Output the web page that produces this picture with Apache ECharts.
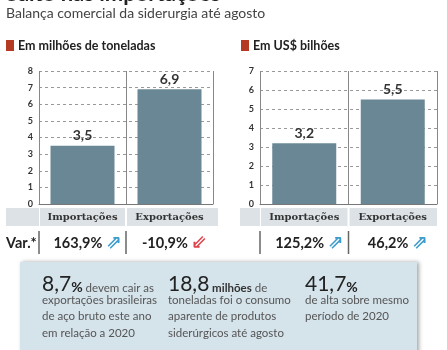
<!DOCTYPE html>
<html>
<head>
<meta charset="utf-8">
<script src="https://cdn.jsdelivr.net/npm/echarts@6/dist/echarts.min.js"></script>
<style>
  html, body { margin: 0; padding: 0; background: #fff; }
  #main { width: 447px; height: 350px; }
</style>
</head>
<body>
<div id="main"></div>
<script>
// dados
var categories = ['Importações', 'Exportações'];
var toneladas = [3.5, 6.9];
var dolares = [3.2, 5.5];
var varToneladas = [163.9, -10.9];
var varDolares = [125.2, 46.2];
var maxToneladas = 8;
var maxDolares = 7;

var FONT = 'Lato';
var barColor = '#6a8796';

function virgula(v) {
    return v.toFixed(1).replace('.', ',');
}

function eixoX(grid) {
    return {
        type: 'category',
        gridIndex: grid,
        data: categories,
        axisLine: { lineStyle: { color: '#777', width: 1 } },
        axisTick: { show: false },
        splitLine: { show: true, lineStyle: { color: '#888', width: 1 } },
        axisLabel: {
            interval: 0,
            hideOverlap: false,
            margin: 8,
            fontFamily: 'DejaVu Serif',
            fontWeight: 'bold',
            fontSize: 10,
            color: '#333'
        }
    };
}

function eixoY(grid, max) {
    return {
        type: 'value',
        gridIndex: grid,
        min: 0,
        max: max,
        interval: 1,
        axisLine: { show: false },
        axisTick: { show: false },
        splitLine: { lineStyle: { color: '#999', type: [3, 3], width: 1 } },
        axisLabel: {
            margin: 6,
            fontFamily: FONT,
            fontWeight: 'bold',
            fontSize: 9,
            color: '#333'
        }
    };
}

function serie(idx, valores) {
    return {
        type: 'bar',
        xAxisIndex: idx,
        yAxisIndex: idx,
        data: valores,
        barWidth: 64,
        itemStyle: { color: barColor },
        label: {
            show: true,
            position: 'top',
            distance: 3,
            fontFamily: FONT,
            fontWeight: 'bold',
            fontSize: 14,
            color: '#333',
            formatter: function (p) { return virgula(p.value); }
        }
    };
}

var myChart = echarts.init(document.getElementById('main'));
var option = {
    animation: false,
    grid: [
        { left: 39, top: 71, width: 174, height: 133 },
        { left: 260, top: 71, width: 177, height: 133 }
    ],
    xAxis: [eixoX(0), eixoX(1)],
    yAxis: [eixoY(0, maxToneladas), eixoY(1, maxDolares)],
    series: [serie(0, toneladas), serie(1, dolares)]
};
myChart.setOption(option);

// elementos de texto e faixas
var g = [];
// titulo cortado
g.push({ type: 'text', left: 6, top: -17, z: 10,
    style: { text: 'Salto nas importações', font: 'bold 22px ' + FONT, fill: '#222' } });
g.push({ type: 'text', left: 6, top: 6,
    style: { text: 'Balança comercial da siderurgia até agosto', font: '14px ' + FONT, fill: '#444' } });
// cabecalhos
[[6, 'Em milhões de toneladas'], [241, 'Em US$ bilhões']].forEach(function (h) {
    g.push({ type: 'rect', shape: { x: h[0], y: 40, width: 8, height: 11 }, style: { fill: '#b53a24' } });
    g.push({ type: 'text', x: h[0] + 12, y: 46,
        style: { text: h[1], font: 'bold 12.5px ' + FONT, fill: '#222', textVerticalAlign: 'middle' } });
});

// faixas cinza e linhas da variacao
function faixa(grid, x0, left, right, vars) {
    var xs = categories.map(function (c) {
        return myChart.convertToPixel({ xAxisIndex: grid }, c);
    });
    var mid = (xs[0] + xs[1]) / 2;
    g.push({ type: 'rect', z: -1, shape: { x: x0, y: 208, width: left - x0, height: 18 }, style: { fill: '#dde2e6' } });
    g.push({ type: 'rect', z: -1, shape: { x: left + 1, y: 208, width: mid - left - 2, height: 18 }, style: { fill: '#dde2e6' } });
    g.push({ type: 'rect', z: -1, shape: { x: mid + 1, y: 208, width: right - mid - 1, height: 18 }, style: { fill: '#dde2e6' } });
    [left, mid].forEach(function (lx) {
        g.push({ type: 'line', shape: { x1: lx, y1: 231, x2: lx, y2: 254 }, style: { stroke: '#666', lineWidth: 1.5 } });
    });
    vars.forEach(function (v, i) {
        var up = v >= 0;
        g.push({ type: 'text', x: xs[i] + 5, y: 243,
            style: {
                text: '{v|' + virgula(v) + '%} {a|' + (up ? '⇗' : '⇙') + '}',
                rich: {
                    v: { font: 'bold 14.5px ' + FONT, fill: '#222' },
                    a: { font: 'bold 19px DejaVu Sans', fill: up ? '#3b9ccd' : '#e0434b' }
                },
                textAlign: 'center', textVerticalAlign: 'middle'
            } });
    });
}
faixa(0, 6, 39, 218, varToneladas);
faixa(1, 240, 260, 437, varDolares);

g.push({ type: 'text', x: 6, y: 243,
    style: { text: 'Var.*', font: 'bold 14.5px ' + FONT, fill: '#222', textVerticalAlign: 'middle' } });

// caixa de destaques
g.push({ type: 'rect', shape: { x: 20, y: 262, width: 397, height: 100 },
    style: { fill: '#d5e3eb', shadowBlur: 4, shadowOffsetX: 2, shadowOffsetY: 0, shadowColor: 'rgba(0,0,0,0.35)' } });

var destaques = [
    { x: 42, big: '8,7', pct: '%', bold: '', rest: ' devem cair as',
      lines: ['exportações brasileiras', 'de aço bruto este ano', 'em relação a 2020'] },
    { x: 168, big: '18,8', pct: '', bold: ' milhões', rest: ' de',
      lines: ['toneladas foi o consumo', 'aparente de produtos', 'siderúrgicos até agosto'] },
    { x: 305, big: '41,7', pct: '%', bold: '', rest: '',
      lines: ['de alta sobre mesmo', 'período de 2020'] }
];
destaques.forEach(function (d) {
    g.push({ type: 'text', x: d.x, y: 284,
        style: {
            text: '{n|' + d.big + '}' + (d.pct ? '{p|' + d.pct + '}' : '') + (d.bold ? '{b|' + d.bold + '}' : '') + (d.rest ? '{r|' + d.rest + '}' : ''),
            rich: {
                n: { font: '21px ' + FONT, fill: '#222', verticalAlign: 'bottom' },
                p: { font: 'bold 14px ' + FONT, fill: '#222', verticalAlign: 'bottom' },
                b: { font: 'bold 11.5px ' + FONT, fill: '#333', verticalAlign: 'bottom' },
                r: { font: '11.5px ' + FONT, fill: '#555', verticalAlign: 'bottom' }
            },
            textVerticalAlign: 'middle'
        } });
    d.lines.forEach(function (t, i) {
        g.push({ type: 'text', x: d.x, y: 300 + i * 16.5,
            style: { text: t, font: '11.5px ' + FONT, fill: '#555', textVerticalAlign: 'middle' } });
    });
});

myChart.setOption({ graphic: g });
</script>
</body>
</html>
